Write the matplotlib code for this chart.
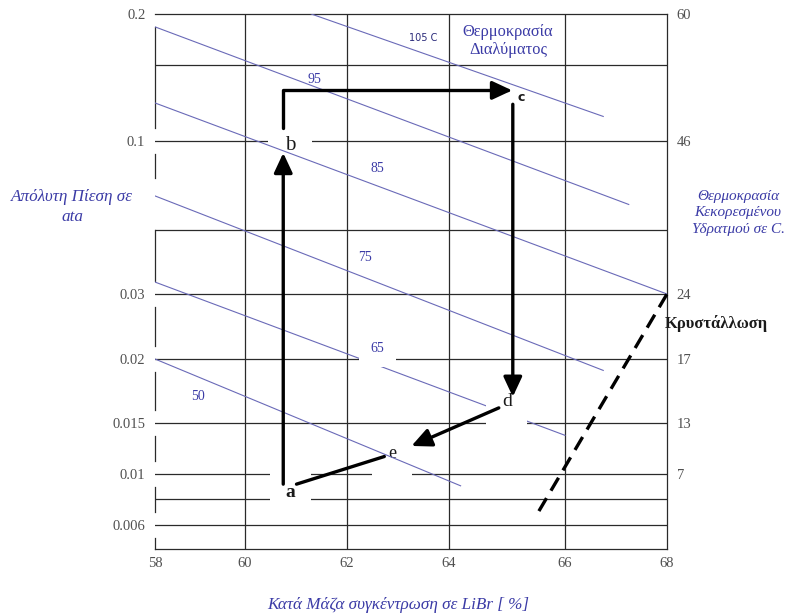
import numpy as np
import matplotlib.pyplot as plt

plt.rcParams['font.family'] = ['Liberation Serif', 'DejaVu Serif']

# pressure (ata) on the left, saturated vapour temperature (C) on the right
p_ticks = [0.2, 0.1, 0.03, 0.02, 0.015, 0.01, 0.006]
p_labels = ['0.2', '0.1', '0.03', '0.02', '0.015', '0.01', '0.006']
t_sat_p = [0.2, 0.1, 0.03, 0.02, 0.015, 0.01]
t_sat = ['60', '46', '24', '17', '13', '7']
p_grid = [0.15, 0.1, 0.05, 0.03, 0.02, 0.015, 0.01, 0.008, 0.006]
x_ticks = [58, 60, 62, 64, 66, 68]

# solution isotherms (start / end of each line)
iso_T = ['105 C', '95', '85', '75', '65', '50']
iso_x0 = [61.3, 58, 58, 58, 58, 58]
iso_p0 = [0.2, 0.186, 0.1225, 0.0652, 0.033, 0.02]
iso_x1 = [66.75, 67.25, 68, 66.75, 66, 64.2]
iso_p1 = [0.114, 0.061, 0.03, 0.019, 0.0136, 0.009]
iso_lx = [63.5, 61.37, 62.6, 62.35, 62.6, 58.96]
iso_lp = [0.175, 0.139, 0.081, 0.040, 0.0213, 0.0169]

# cycle states
states = ['a', 'b', 'c', 'd', 'e']
st_x = [60.75, 60.75, 65.1, 65.1, 62.94]
st_p = [0.0088, 0.1, 0.131, 0.0165, 0.0118]

# crystallisation limit
cryst_x = [65.55, 68]
cryst_p = [0.0070, 0.03]

# the chart was drawn by hand, so both axes are piecewise
x_anchor = [58, 60, 62, 64, 66, 68]
x_px = [0, 90, 192, 294, 410, 512]
p_anchor = np.log10([0.0045, 0.006, 0.008, 0.01, 0.015, 0.02, 0.03, 0.05, 0.1, 0.15, 0.2])
p_px = [0, 24, 50, 75, 126, 190, 255, 319, 408, 484, 535]


def fx(x):
    return np.interp(x, x_anchor, x_px)


def fx_inv(v):
    return np.interp(v, x_px, x_anchor)


def fp(p):
    return np.interp(np.log10(np.clip(p, 1e-9, None)), p_anchor, p_px)


def fp_inv(v):
    return 10 ** np.interp(v, p_px, p_anchor)


blue = '#3b3ba6'
iso_c = '#6a6ab8'
grid_c = '#2a2a2a'

fig = plt.figure(figsize=(8.01, 6.14), dpi=100)
ax = fig.add_axes([155 / 801, 65 / 614, 512 / 801, 535 / 614])
ax.set_xscale('function', functions=(fx, fx_inv))
ax.set_yscale('function', functions=(fp, fp_inv))
ax.set_xlim(58, 68)
ax.set_ylim(0.0045, 0.2)

ax.set_xticks(x_ticks, [str(v) for v in x_ticks])
ax.set_yticks(p_ticks, p_labels)
ax.minorticks_off()
ax.tick_params(length=0, labelsize=10.5, labelcolor='#505050')
ax.tick_params(axis='x', pad=6)
ax.tick_params(axis='y', pad=7)

for s in ['top', 'right', 'bottom']:
    ax.spines[s].set_color(grid_c)
    ax.spines[s].set_linewidth(0.9)
ax.spines['left'].set_visible(False)

# left border broken behind the tick labels and the axis title
top = fp(0.2)
cuts = [(fp(p) / top - 0.025, fp(p) / top + 0.025) for p in p_ticks]
cuts.append((fp(0.05) / top, 0.693))
cuts.sort()
y0 = 0.0
for c0, c1 in cuts:
    if c0 > y0:
        ax.plot([0, 0], [y0, c0], transform=ax.transAxes, color=grid_c,
                lw=0.9, clip_on=False, zorder=1)
    y0 = max(y0, c1)
if y0 < 1:
    ax.plot([0, 0], [y0, 1], transform=ax.transAxes, color=grid_c,
            lw=0.9, clip_on=False, zorder=1)

for p in p_grid:
    ax.axhline(p, color=grid_c, lw=0.9, zorder=1)
for x in x_ticks[1:-1]:
    ax.axvline(x, color=grid_c, lw=0.9, zorder=1)

# right-hand temperature scale
ax2 = ax.twinx()
ax2.set_yscale('function', functions=(fp, fp_inv))
ax2.set_ylim(ax.get_ylim())
ax2.set_yticks(t_sat_p, t_sat)
ax2.minorticks_off()
ax2.tick_params(length=0, labelsize=10.5, labelcolor='#505050', pad=7)
for s in ax2.spines.values():
    s.set_visible(False)

# isotherms
for i in range(len(iso_T)):
    ax.plot([iso_x0[i], iso_x1[i]], [iso_p0[i], iso_p1[i]], color=iso_c,
            lw=0.8, zorder=3)
    if iso_T[i] == '105 C':
        ax.text(iso_lx[i], iso_lp[i], iso_T[i], color='#2a2a7a', fontsize=7,
                ha='center', va='center', family=['DejaVu Sans Condensed', 'DejaVu Sans'], zorder=4)
    elif iso_T[i] == '65':
        ax.text(iso_lx[i], iso_lp[i], iso_T[i], color=blue, fontsize=10,
                ha='center', va='center', zorder=4,
                bbox=dict(boxstyle='square,pad=0.85', fc='white', ec='none'))
    else:
        ax.text(iso_lx[i], iso_lp[i], iso_T[i], color=blue, fontsize=10,
                ha='center', va='center', zorder=4)

# state labels
lab_off = {'a': (5, -3), 'b': (5, -3.6), 'c': (6, -5), 'd': (-4.3, 0), 'e': (-2, 0)}
lab_kw = {
    'a': dict(fontsize=14, fontweight='bold', zorder=2),
    'b': dict(fontsize=15, zorder=2),
    'c': dict(fontsize=9, fontweight='bold', family=['DejaVu Sans'], zorder=4),
    'd': dict(fontsize=14, zorder=4),
    'e': dict(fontsize=13, zorder=2),
}
box_pad = {'a': 0.8, 'b': 0.8, 'c': 0.1, 'd': 0.8, 'e': 0.9}
for i, s in enumerate(states):
    ax.annotate(s, (st_x[i], st_p[i]), xytext=lab_off[s], textcoords='offset points',
                ha='center', va='center', color='#1a1a1a',
                bbox=dict(boxstyle='square,pad=%g' % box_pad[s], fc='white', ec='none'),
                **lab_kw[s])

head = '-|>,head_length=0.6,head_width=0.28'
a, b, c, d, e = [(st_x[i], st_p[i]) for i in range(5)]

ax.annotate('', xy=b, xytext=a, zorder=5,
            arrowprops=dict(arrowstyle=head, color='black', lw=2.4,
                            mutation_scale=20, shrinkA=3, shrinkB=8.6))
ax.annotate('', xy=c, xytext=b, zorder=5,
            arrowprops=dict(arrowstyle=head, color='black', lw=2.4,
                            mutation_scale=20, shrinkA=9.4, shrinkB=0.5,
                            connectionstyle='angle,angleA=90,angleB=0,rad=0'))
ax.annotate('', xy=d, xytext=c, zorder=5,
            arrowprops=dict(arrowstyle=head, color='black', lw=2.4,
                            mutation_scale=20, shrinkA=10, shrinkB=3.6))
ax.annotate('', xy=e, xytext=d, zorder=5,
            arrowprops=dict(arrowstyle=head, color='black', lw=2.4,
                            mutation_scale=20, shrinkA=11, shrinkB=13))
ax.annotate('', xy=e, xytext=a, zorder=5,
            arrowprops=dict(arrowstyle='-', color='black', lw=2.4,
                            shrinkA=10, shrinkB=8))

ax.plot(cryst_x, cryst_p, color='black', lw=2.4, dashes=(4.5, 2.6), zorder=5,
        clip_on=False)
ax.annotate('Κρυστάλλωση', (cryst_x[1], 0.025), xytext=(-1.5, 0),
            textcoords='offset points', ha='left', va='center',
            fontsize=12, fontweight='bold', color='#1a1a1a', zorder=6,
            annotation_clip=False)

ax.text(65.02, 0.1718, 'Θερμοκρασία\nΔιαλύματος', color=blue, fontsize=11.8,
        ha='center', va='center', zorder=4)

fig.text(72 / 801, 1 - 207 / 614, 'Απόλυτη Πίεση σε\nata', color=blue,
         fontsize=12.3, style='italic', ha='center', va='center', linespacing=1.4)
fig.text(738 / 801, 1 - 213 / 614, 'Θερμοκρασία\nΚεκορεσμένου\nΥδρατμού σε C.',
         color=blue, fontsize=11, style='italic', ha='center', va='center',
         linespacing=1.35)
fig.text(398 / 801, 1 - 605 / 614, 'Κατά Μάζα συγκέντρωση σε LiBr [ %]',
         color=blue, fontsize=12.3, style='italic', ha='center', va='center')

fig.savefig('out.png', dpi=100)
